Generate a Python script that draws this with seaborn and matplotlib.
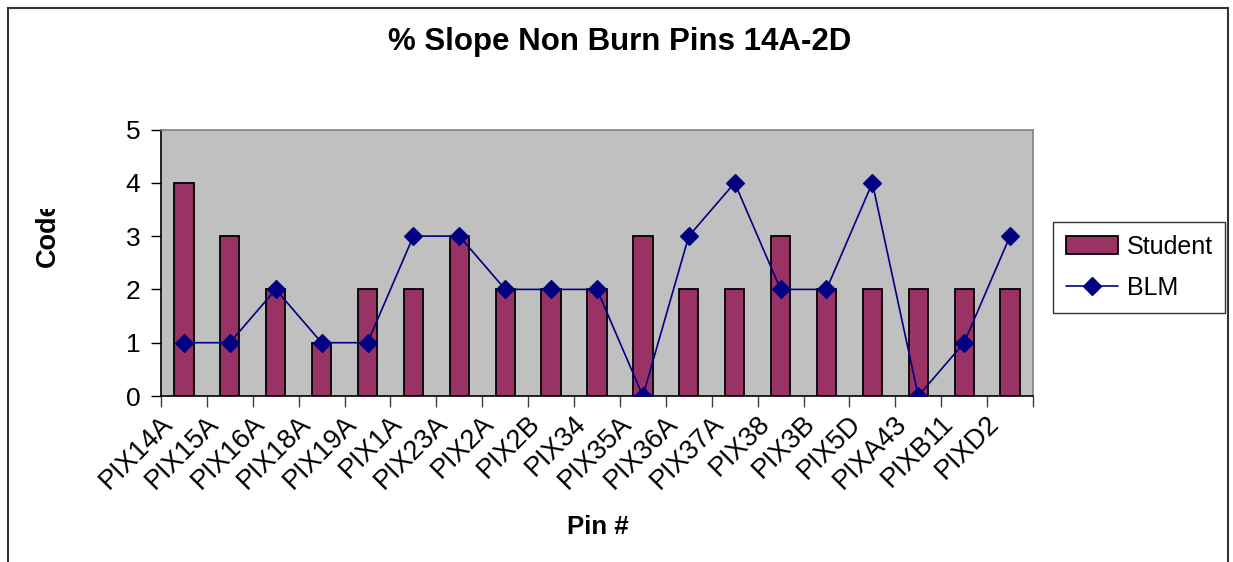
import matplotlib
matplotlib.use("Agg")
import matplotlib.pyplot as plt
import matplotlib.transforms as mtrans
from matplotlib.patches import Rectangle
from matplotlib.lines import Line2D
from matplotlib.ticker import FixedLocator
import seaborn as sns
import pandas as pd
import numpy as np

pins = ["PIX14A", "PIX15A", "PIX16A", "PIX18A", "PIX19A", "PIX1A", "PIX23A",
        "PIX2A", "PIX2B", "PIX34", "PIX35A", "PIX36A", "PIX37A", "PIX38",
        "PIX3B", "PIX5D", "PIXA43", "PIXB11", "PIXD2"]
student = [4, 3, 2, 1, 2, 2, 3, 2, 2, 2, 3, 2, 2, 3, 2, 2, 2, 2, 2]
blm = [1, 1, 2, 1, 1, 3, 3, 2, 2, 2, 0, 3, 4, 2, 2, 4, 0, 1, 3]
yticks = [0, 1, 2, 3, 4, 5]

df = pd.DataFrame({"Pin": pins, "Student": student, "BLM": blm})

sns.set_theme(style="white")
plt.rcParams["font.family"] = ["Liberation Sans", "DejaVu Sans"]
plt.rcParams["text.color"] = "black"
plt.rcParams["xtick.color"] = "black"
plt.rcParams["ytick.color"] = "black"
plt.rcParams["xtick.labelcolor"] = "black"
plt.rcParams["ytick.labelcolor"] = "black"

W, H = 1233, 562
fig = plt.figure(figsize=(W / 100, H / 100), dpi=100)
fig.patch.set_facecolor("white")
ax = fig.add_axes([161 / W, 1 - 396 / H, (1033 - 161) / W, (396 - 129.5) / H])
ax.set_facecolor("#C0C0C0")

sns.barplot(data=df, x="Pin", y="Student", order=pins, color="#993366",
            width=0.42, edgecolor="black", linewidth=1.3, saturation=1,
            ax=ax, zorder=2)
sns.pointplot(data=df, x="Pin", y="BLM", order=pins, color="#000080",
              markers="D", linestyles="-", markersize=9, linewidth=1.2,
              ax=ax, zorder=3)

ax.set_xlim(-0.5, len(pins) - 0.5)
ax.set_ylim(0, 5)
ax.set_yticks(yticks)
ax.set_yticklabels([str(v) for v in yticks], fontsize=19, color="black")
ax.set_xticks(range(len(pins)))
ax.set_xticklabels(pins, fontsize=19.5, rotation=45, ha="right", va="center",
                   rotation_mode="anchor", color="black")
ax.xaxis.set_minor_locator(FixedLocator(np.arange(-0.5, len(pins), 1.0)))
ax.tick_params(axis="x", which="major", length=0, pad=17)
ax.tick_params(axis="x", which="minor", length=8, width=1, color="#404040",
               direction="out", bottom=True)
ax.tick_params(axis="y", which="major", length=7, width=1, color="black",
               direction="out", left=True, pad=8)
offset = mtrans.ScaledTranslation(-0.15, 0, fig.dpi_scale_trans)
for lab in ax.get_xticklabels():
    lab.set_transform(lab.get_transform() + offset)

for s in ["left", "bottom"]:
    ax.spines[s].set_color("black")
    ax.spines[s].set_linewidth(1.2)
for s in ["top", "right"]:
    ax.spines[s].set_color("#808080")
    ax.spines[s].set_linewidth(1.2)
ax.set_xlabel("")
ax.set_ylabel("")
ax.grid(False)

fig.text(620 / W, 1 - 42 / H, "% Slope Non Burn Pins 14A-2D", fontsize=22.5,
         fontweight="bold", ha="center", va="center", color="black")
fig.text(598 / W, 1 - 527 / H, "Pin #", fontsize=18.5, fontweight="bold",
         ha="center", va="center", color="black")
code = fig.text(48 / W, 1 - 267 / H, "Code", fontsize=19.5, fontweight="bold",
                rotation=90, ha="center", va="bottom", color="black")
clip = Rectangle((0, 0), W, H - 209, transform=mtrans.IdentityTransform(),
                 visible=False)
fig.add_artist(clip)
code.set_clip_path(clip)

handles = [Rectangle((0, 0), 1, 1, facecolor="#993366", edgecolor="black", linewidth=1.3),
           Line2D([], [], color="#000080", marker="D", markersize=9, linewidth=1.2)]
leg = fig.legend(handles, ["Student", "BLM"], loc="upper left",
                 bbox_to_anchor=(1053 / W, 1 - 222 / H), fontsize=18,
                 frameon=True, fancybox=False, edgecolor="black",
                 handlelength=2.1, handletextpad=0.35, borderpad=0.5,
                 labelspacing=0.7, borderaxespad=0)
leg.get_frame().set_linewidth(1.0)
for t in leg.get_texts():
    t.set_color("black")

border = Rectangle((8, -20), 1220, H - 8 + 20, transform=mtrans.IdentityTransform(),
                   fill=False, edgecolor="#333333", linewidth=1.5)
fig.add_artist(border)

fig.savefig("out.png", dpi=100, facecolor="white")
